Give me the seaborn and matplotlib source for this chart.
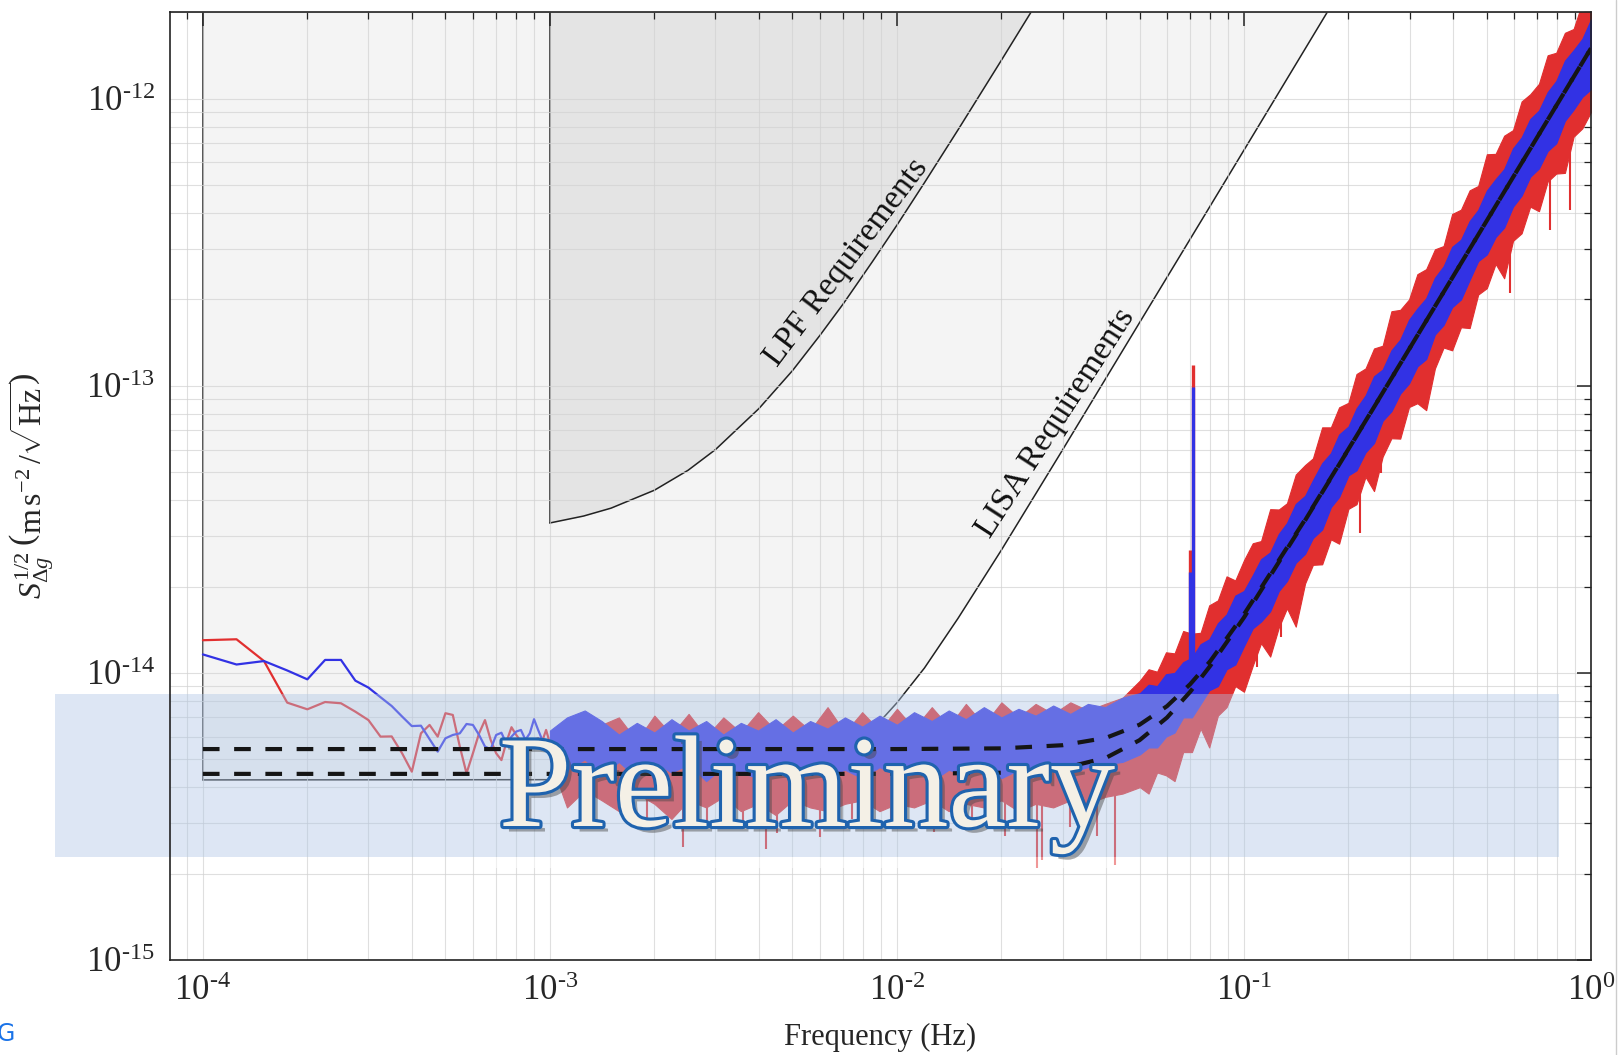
import numpy as np
import pandas as pd
import matplotlib
matplotlib.use('Agg')
import matplotlib.pyplot as plt
import matplotlib.patheffects as pe
from matplotlib.patches import Rectangle
from matplotlib.lines import Line2D
from matplotlib.ticker import FixedLocator, FuncFormatter
import seaborn as sns

# ---- data (accelerations in fm s^-2 / sqrt(Hz)) ----
# sparse low-frequency part of the two spectra, frequencies in mHz
f_low_mhz = [0.100, 0.125, 0.150, 0.175, 0.200, 0.225, 0.250, 0.275, 0.300, 0.325,
             0.350, 0.375, 0.400, 0.425, 0.450, 0.475, 0.500, 0.525, 0.550, 0.575,
             0.600, 0.625, 0.650, 0.675, 0.700, 0.725, 0.750, 0.775, 0.800, 0.825,
             0.850, 0.875, 0.900, 0.925, 0.950, 0.975, 1.000]
red_low = [13.0, 13.1, 11.0, 7.88, 7.47, 7.92, 7.84, 7.33, 6.85, 6.0,
           6.01, 5.25, 4.53, 6.16, 6.59, 6.0, 7.24, 7.14, 5.54, 4.47,
           5.25, 6.16, 6.85, 5.84, 5.25, 4.97, 5.77, 6.47, 6.08, 5.77,
           5.25, 5.47, 5.85, 5.92, 5.77, 6.33, 5.69]
blue_low = [11.6, 10.7, 11.0, 10.2, 9.5, 11.1, 11.1, 9.4, 8.89, 8.23,
            7.67, 7.05, 6.53, 6.55, 5.88, 5.32, 5.92, 6.08, 6.16, 6.64,
            6.59, 6.08, 5.54, 5.42, 6.08, 6.19, 5.66, 6.0, 6.25, 6.33,
            5.85, 6.16, 6.9, 6.33, 5.85, 5.61, 5.25]

# dense part: envelopes of the spectra (Hz)
f_dense = [1.00e-3, 1.12e-3, 1.26e-3, 1.41e-3, 1.58e-3, 1.78e-3, 2.00e-3, 2.24e-3, 2.51e-3, 2.82e-3,
           3.16e-3, 3.55e-3, 3.98e-3, 4.47e-3, 5.01e-3, 5.62e-3, 6.31e-3, 7.08e-3, 7.94e-3, 8.91e-3,
           1.00e-2, 1.12e-2, 1.26e-2, 1.41e-2, 1.58e-2, 1.78e-2, 2.00e-2, 2.24e-2, 2.51e-2, 2.82e-2,
           3.16e-2, 3.55e-2, 3.98e-2, 4.47e-2,
           0.0501, 0.0531, 0.0562, 0.0596, 0.0631, 0.0668, 0.0708, 0.0750, 0.0794, 0.0841,
           0.0891, 0.0944, 0.100, 0.106, 0.112, 0.119, 0.126, 0.133, 0.141, 0.150,
           0.158, 0.168, 0.178, 0.188, 0.200, 0.211, 0.224, 0.237, 0.251, 0.266,
           0.282, 0.299, 0.316, 0.335, 0.355, 0.376, 0.398, 0.422, 0.447, 0.473,
           0.501, 0.531, 0.562, 0.596, 0.631, 0.668, 0.708, 0.750, 0.794, 0.841,
           0.891, 0.944, 1.000]
red_hi = [5.9, 6.4, 6.0, 6.6, 7.0, 5.8, 7.1, 6.1, 7.2, 6.0,
          7.0, 6.2, 7.3, 6.3, 7.1, 6.3, 7.6, 6.2, 7.3, 6.3,
          7.5, 6.4, 7.6, 6.5, 7.8, 6.6, 7.9, 7.0, 7.8, 7.2,
          7.9, 7.4, 7.8, 8.2,
          9.4, 10.3, 10.1, 11.8, 11.7, 14.0, 13.7, 13.8, 17.2, 17.9,
          21.7, 21.0, 24.7, 28.3, 28.8, 37.2, 37.1, 39.0, 49.1, 53.0,
          55.9, 71.7, 71.7, 84.2, 87.3, 110, 115, 135, 138, 182,
          184, 200, 245, 255, 299, 307, 397, 411, 480, 497,
          641, 643, 744, 778, 979, 1037, 1128, 1418, 1447, 1698,
          1751, 2166, 2325]
red_lo = [5.0, 3.4, 3.9, 3.6, 3.3, 3.8, 3.5, 3.1, 3.6, 3.4,
          3.7, 3.3, 3.5, 3.2, 3.6, 3.4, 3.3, 3.5, 3.6, 3.3,
          3.5, 3.4, 3.6, 3.3, 3.5, 3.4, 3.6, 3.3, 3.5, 3.4,
          3.6, 3.5, 3.7, 3.8,
          4.0, 3.8, 4.5, 4.4, 4.2, 5.3, 5.3, 6.4, 5.5, 7.1,
          7.6, 9.0, 8.6, 10.6, 12.7, 11.4, 14.4, 16.8, 14.5, 20.5,
          23.8, 23.9, 29.2, 28.2, 37.3, 38.7, 48.2, 43.0, 56.7, 65.7,
          65.5, 84.4, 87.0, 82.3, 115, 136, 133, 160, 159, 208,
          219, 266, 237, 320, 340, 421, 406, 515, 549, 552,
          738, 789, 900]
blue_hi = [6.3, 7.0, 7.4, 6.8, 6.1, 6.7, 6.2, 6.9, 6.3, 6.8,
           6.1, 6.7, 6.3, 6.9, 6.2, 6.8, 6.4, 7.0, 6.5, 7.1,
           6.6, 7.3, 6.8, 7.4, 6.9, 7.6, 7.0, 7.5, 7.1, 7.7,
           7.2, 7.8, 7.6, 8.2,
           8.5, 9.1, 9.0, 9.9, 10.0, 10.9, 11.3, 12.6, 13.1, 14.9,
           16.0, 18.6, 19.3, 21.9, 24.9, 26.3, 30.5, 33.3, 38.8, 41.4,
           46.9, 53.8, 58.3, 67.7, 72.2, 83.5, 92.6, 108, 114, 133,
           145, 170, 186, 202, 238, 261, 305, 323, 375, 410,
           479, 525, 569, 672, 734, 850, 910, 1055, 1154, 1358,
           1477, 1618, 1890]
blue_lo = [5.1, 4.6, 5.0, 4.4, 4.9, 4.3, 4.9, 4.5, 4.8, 4.2,
           4.7, 4.5, 4.3, 4.6, 4.2, 4.7, 4.4, 4.6, 4.3, 4.7,
           4.4, 4.6, 4.2, 4.6, 4.4, 4.7, 4.3, 4.6, 4.5, 4.7,
           4.5, 4.7, 4.8, 4.9,
           5.2, 5.5, 5.5, 6.0, 6.2, 7.0, 7.0, 7.8, 8.7, 9.0,
           10.3, 10.7, 12.4, 14.3, 15.1, 16.4, 19.3, 20.9, 24.2, 26.0,
           29.5, 31.6, 37.8, 41.0, 48.8, 50.8, 58.7, 63.2, 75.6, 81.6,
           94.0, 102, 117, 124, 151, 163, 188, 200, 234, 272,
           287, 330, 356, 421, 460, 535, 572, 658, 700, 838,
           917, 1016, 1080]

# downward spikes of the red spectrum
red_spike_f = [1.9e-3, 2.42e-3, 2.83e-3, 3.6e-3, 4.2e-3, 4.5e-3, 6.0e-3, 7.4e-3, 9.6e-3, 0.0128,
               0.0165, 0.0205, 0.0254, 0.0261, 0.0315, 0.0378, 0.0425, 0.109, 0.128, 0.216,
               0.249, 0.585, 0.762, 0.872]
red_spike_tip = [3.0, 2.48, 3.0, 2.9, 2.43, 2.77, 2.69, 3.1, 2.9, 2.8,
                 3.0, 2.7, 2.1, 2.23, 2.9, 2.7, 2.14, 10.5, 13.3, 30.7,
                 49.8, 210, 350, 410]
red_spike_base = [4.5, 4.5, 4.5, 4.5, 4.5, 4.5, 4.5, 4.5, 4.5, 4.5,
                  4.5, 4.5, 4.5, 4.5, 4.6, 4.8, 5.0, 19, 25, 70,
                  93, 510, 870, 1140]

# narrow line near 70 mHz
line_f = [0.0699, 0.0714]
line_base = [9.0, 9.3]
line_red = [26.9, 118]
line_blue = [22.5, 99.5]

# noise model fits (dashed)
fit_f = [1e-4, 1e-2, 2e-2, 3e-2, 4e-2, 5e-2, 6e-2, 7e-2, 8e-2, 0.1, 0.15, 0.2, 0.3, 0.5, 0.7, 1.0]
fit_hi = [5.43, 5.43, 5.46, 5.6, 5.94, 6.6, 7.66, 9.14, 11.0, 16.0, 34.2, 60.2, 135, 375, 735, 1500]
fit_lo = [4.45, 4.45, 4.49, 4.65, 5.06, 5.83, 6.99, 8.6, 10.6, 15.6, 34.0, 60.1, 135, 375, 735, 1500]

# requirement curves
lisa_f = [1e-4, 2e-3, 4e-3, 5e-3, 6e-3, 7e-3, 8e-3, 9e-3, 1e-2, 1.2e-2, 1.5e-2, 2e-2, 3e-2, 5e-2, 8e-2, 0.12, 0.18]
lisa_S = [4.24, 4.25, 4.37, 4.55, 4.87, 5.34, 6.0, 6.84, 7.87, 10.4, 15.5, 26.8, 59.8, 166, 424, 954, 2150]
lpf_f = [1e-3, 1.25e-3, 1.5e-3, 2e-3, 2.5e-3, 3e-3, 4e-3, 5e-3, 6e-3, 7e-3, 8.5e-3, 1e-2, 1.2e-2, 1.5e-2, 2e-2, 2.6e-2]
lpf_S = [33.3, 35.2, 37.5, 43.3, 50.8, 60, 83.3, 113, 150, 193, 271, 363, 510, 780, 1363, 2280]

x_ticks = [1e-4, 1e-3, 1e-2, 1e-1, 1e0]
y_ticks = [1e-15, 1e-14, 1e-13, 1e-12]

FM = 1e-15
RED = '#e12f2f'
BLUE = '#3232e4'

sns.set_theme(style='white')
plt.rcParams['font.family'] = ['Liberation Serif', 'DejaVu Serif']
plt.rcParams['mathtext.fontset'] = 'custom'
plt.rcParams['mathtext.rm'] = 'Liberation Serif'
plt.rcParams['mathtext.it'] = 'Liberation Serif:italic'
plt.rcParams['mathtext.bf'] = 'Liberation Serif:bold'
plt.rcParams['axes.unicode_minus'] = False

W, H = 1619, 1055
fig = plt.figure(figsize=(W / 100, H / 100), dpi=100)
ax = fig.add_axes([170 / W, 1 - 960 / H, (1591 - 170) / W, (960 - 12.4) / H])
ax.set_xscale('log')
ax.set_yscale('log')
ax.set_axisbelow('line')

top = 1e-10
# LISA requirement region
ax.fill_between(lisa_f, np.array(lisa_S) * FM, top, color='#f4f4f4', lw=0, zorder=0.5)
ax.plot(lisa_f, np.array(lisa_S) * FM, color='#222222', lw=1.1, zorder=0.7)
ax.plot([lisa_f[0], lisa_f[0]], [lisa_S[0] * FM, top], color='#222222', lw=1.1, zorder=0.7)
# LPF requirement region
ax.fill_between(lpf_f, np.array(lpf_S) * FM, top, color='#e4e4e4', lw=0, zorder=0.6)
ax.plot(lpf_f, np.array(lpf_S) * FM, color='#222222', lw=1.1, zorder=0.7)
ax.plot([lpf_f[0], lpf_f[0]], [lpf_S[0] * FM, top], color='#222222', lw=1.1, zorder=0.7)

ax.grid(True, which='both', color='#d2d2d2', lw=0.8, alpha=0.7)

# red spectrum
f_low = np.array(f_low_mhz) * 1e-3
sns.lineplot(x=f_low, y=np.array(red_low) * FM, ax=ax, color=RED, linewidth=1.6,
             estimator=None, sort=False, legend=False, zorder=3)
ax.fill_between(f_dense, np.array(red_lo) * FM, np.array(red_hi) * FM,
                color=RED, edgecolor=RED, lw=0.8, zorder=3)
ax.vlines(red_spike_f, np.array(red_spike_tip) * FM, np.array(red_spike_base) * FM,
          color=RED, lw=1.5, zorder=3)
ax.vlines(line_f, np.array(line_base) * FM, np.array(line_red) * FM, color=RED, lw=2.4, zorder=3)

# blue spectrum
sns.lineplot(x=f_low, y=np.array(blue_low) * FM, ax=ax, color=BLUE, linewidth=1.6,
             estimator=None, sort=False, legend=False, zorder=4)
ax.fill_between(f_dense, np.array(blue_lo) * FM, np.array(blue_hi) * FM,
                color=BLUE, edgecolor=BLUE, lw=0.8, zorder=4)
ax.vlines(line_f, np.array(line_base) * FM, np.array(line_blue) * FM, color=BLUE, lw=2.4, zorder=4)

# watermark band (over the spectra, under the fits)
band = Rectangle((54.7 / W, 1 - 857 / H), (1559 - 54.7) / W, (857 - 694) / H,
                 transform=fig.transFigure, facecolor='#aec5e5', alpha=0.42,
                 lw=0, zorder=4.6, clip_on=False)
ax.add_artist(band)

# model fits
ax.plot(fit_f, np.array(fit_hi) * FM, color='#151515', lw=3, ls=(0, (4, 3.5)), zorder=5)
ax.plot(fit_f, np.array(fit_lo) * FM, color='#151515', lw=3, ls=(0, (4, 3.5)), zorder=5)

ax.text(7.14e-3, 2.7e-13, 'LPF Requirements', rotation=53, rotation_mode='anchor',
        ha='center', va='center', fontsize=24, color='#111111', zorder=6)
ax.text(2.87e-2, 7.4e-14, 'LISA Requirements', rotation=57, rotation_mode='anchor',
        ha='center', va='center', fontsize=24, color='#111111', zorder=6)

ax.set_xlim(8.04e-5, 1.0)
ax.set_ylim(1e-15, 2.0e-12)
ax.xaxis.set_major_locator(FixedLocator(x_ticks))
ax.yaxis.set_major_locator(FixedLocator(y_ticks))
exp_fmt = FuncFormatter(lambda v, p: r'$10^{\text{%d}}$' % int(round(np.log10(v))))
ax.xaxis.set_major_formatter(exp_fmt)
ax.yaxis.set_major_formatter(exp_fmt)

for s in ax.spines.values():
    s.set_color('#222222')
    s.set_linewidth(1.2)
    s.set_zorder(6)
ax.tick_params(which='both', direction='in', top=True, right=True, color='#222222')
ax.tick_params(which='major', length=10, width=1.1, labelsize=25, pad=11)
ax.tick_params(which='minor', length=5, width=0.9)

ax.set_xlabel('Frequency (Hz)', fontsize=22)
ax.xaxis.set_label_coords(0.5, -0.066)
ax.set_ylabel(r'$S_{\Delta g}^{1/2}\;\left(\mathrm{m\,s^{-2}}\,/\sqrt{\mathrm{Hz}}\right)$', fontsize=23)
ax.yaxis.set_label_coords(-0.08, 0.5)

# watermark text
fig.patches.append(Rectangle((487 / W, 1 - 868 / H), (1131 - 487) / W, 11 / H,
                             transform=fig.transFigure, facecolor='white', alpha=0.5,
                             lw=0, zorder=1))
fig.text(807 / W, 1 - 826 / H, 'Preliminary', fontsize=94, family='Liberation Serif',
         color='#f4f0e6', ha='center', va='baseline', zorder=3,
         path_effects=[pe.SimplePatchShadow(offset=(4, -4), shadow_rgbFace='#444444', alpha=0.45),
                       pe.Stroke(linewidth=4.5, foreground='#1f63ae'),
                       pe.Normal()])

fig.text(-0.002, 1 - 1041 / H, 'G', fontsize=17, family='DejaVu Sans', color='#1a73e8',
         ha='left', va='baseline')
fig.add_artist(Line2D([1616 / W, 1616 / W], [0, 1], transform=fig.transFigure,
                      color='#cccccc', lw=1))

fig.savefig('out.png', dpi=100)
